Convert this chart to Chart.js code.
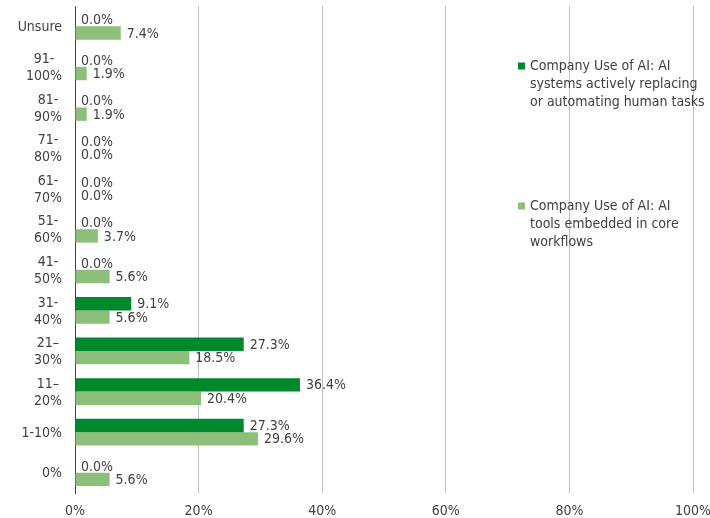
<!DOCTYPE html>
<html>
<head>
<meta charset="utf-8">
<script src="https://cdn.jsdelivr.net/npm/chart.js@4.4.0/dist/chart.umd.min.js"></script>
<style>
  html, body { margin: 0; padding: 0; background: #fff; }
  #wrap { width: 710px; height: 518px; position: relative; }
</style>
</head>
<body>
<div id="wrap"><canvas id="chart"></canvas></div>
<script>
// ---------- data ----------
const categories = [
  ["Unsure"], ["91-", "100%"], ["81-", "90%"], ["71-", "80%"], ["61-", "70%"],
  ["51-", "60%"], ["41-", "50%"], ["31-", "40%"], ["21–", "30%"], ["11–", "20%"],
  ["1-10%"], ["0%"]
];
const replacingLabel = ["Company Use of AI: AI", "systems actively replacing", "or automating human tasks"];
const embeddedLabel = ["Company Use of AI: AI", "tools embedded in core", "workflows"];
const replacingValues = [0, 0, 0, 0, 0, 0, 0, 9.1, 27.3, 36.4, 27.3, 0];
const embeddedValues = [7.4, 1.9, 1.9, 0, 0, 3.7, 5.6, 5.6, 18.5, 20.4, 29.6, 5.6];
const xTicks = [0, 20, 40, 60, 80, 100];

const darkGreen = "#00892c";
const lightGreen = "#8cc07a";
const textColor = "#404040";
const FAMILY = "'DejaVu Sans Condensed', 'DejaVu Sans', Verdana, sans-serif";
const FONT = "14px " + FAMILY;

Chart.defaults.font.family = FAMILY;
Chart.defaults.font.size = 14;
Chart.defaults.color = textColor;

// value labels at bar ends
const valueLabels = {
  id: "valueLabels",
  afterDatasetsDraw(chart) {
    const ctx = chart.ctx;
    ctx.save();
    ctx.font = FONT;
    ctx.fillStyle = textColor;
    ctx.textAlign = "left";
    ctx.textBaseline = "middle";
    chart.data.datasets.forEach((ds, i) => {
      chart.getDatasetMeta(i).data.forEach((bar, j) => {
        ctx.fillText(ds.data[j].toFixed(1) + "%", bar.x + 6, bar.y + 1);
      });
    });
    ctx.restore();
  }
};

// category labels: block right-aligned, lines centered inside block
const categoryLabels = {
  id: "categoryLabels",
  afterDraw(chart) {
    const ctx = chart.ctx;
    const scale = chart.scales.y;
    ctx.save();
    ctx.font = FONT;
    ctx.fillStyle = textColor;
    ctx.textAlign = "center";
    ctx.textBaseline = "middle";
    categories.forEach((lines, i) => {
      const y = scale.getPixelForTick(i);
      const w = Math.max(...lines.map(l => ctx.measureText(l).width));
      const cx = 62 - w / 2;
      const lh = 17;
      const y0 = y - (lines.length - 1) * lh / 2;
      lines.forEach((l, k) => ctx.fillText(l, cx, y0 + k * lh + 1));
    });
    ctx.restore();
  }
};

// legend on the right, over the plot, one entry per dataset
const wrappedLegend = {
  id: "wrappedLegend",
  afterDraw(chart) {
    const ctx = chart.ctx;
    const tops = [66, 206];
    ctx.save();
    ctx.font = FONT;
    ctx.textAlign = "left";
    ctx.textBaseline = "middle";
    chart.data.datasets.forEach((ds, i) => {
      ctx.fillStyle = ds.backgroundColor;
      ctx.fillRect(518, tops[i] - 3.5, 7, 7);
      ctx.fillStyle = textColor;
      ds.label.forEach((l, k) => ctx.fillText(l, 530, tops[i] + k * 18));
    });
    ctx.restore();
  }
};

new Chart(document.getElementById("chart"), {
  type: "bar",
  data: {
    labels: categories,
    datasets: [
      { label: replacingLabel, data: replacingValues, backgroundColor: darkGreen },
      { label: embeddedLabel, data: embeddedValues, backgroundColor: lightGreen }
    ]
  },
  options: {
    indexAxis: "y",
    responsive: true,
    maintainAspectRatio: false,
    animation: false,
    layout: { padding: { top: 6, right: 17, bottom: 0, left: 0 } },
    datasets: { bar: { categoryPercentage: 0.66, barPercentage: 1, borderWidth: 0 } },
    plugins: { legend: { display: false }, tooltip: { enabled: false } },
    scales: {
      x: {
        min: 0,
        max: 100,
        afterBuildTicks: s => { s.ticks = xTicks.map(v => ({ value: v })); },
        afterFit: s => { s.height = 25; s.paddingRight = 0; s.paddingLeft = 0; },
        ticks: { callback: v => v + "%", padding: 10, maxRotation: 0, color: textColor },
        grid: { color: "#bfbfbf", lineWidth: 1, drawTicks: false },
        border: { display: false }
      },
      y: {
        afterFit: s => { s.width = 75; },
        ticks: { display: false },
        grid: { display: false },
        border: { display: true, color: "#404040", width: 1 }
      }
    }
  },
  plugins: [valueLabels, categoryLabels, wrappedLegend]
});
</script>
</body>
</html>
